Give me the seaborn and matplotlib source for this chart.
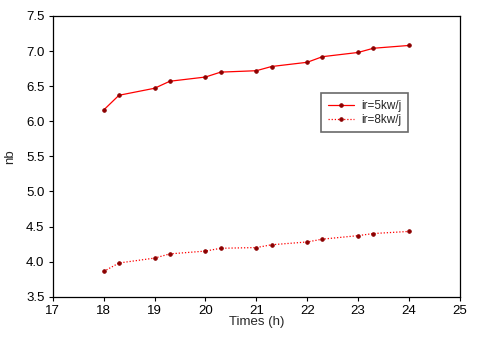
import matplotlib
matplotlib.use("Agg")
import matplotlib.pyplot as plt
import seaborn as sns
import pandas as pd

# Donnees
times = [18, 18.3, 19, 19.3, 20, 20.3, 21, 21.3, 22, 22.3, 23, 23.3, 24]
nb_5kw = [6.16, 6.37, 6.47, 6.57, 6.63, 6.70, 6.72, 6.78, 6.84, 6.92, 6.98, 7.04, 7.08]
nb_8kw = [3.86, 3.98, 4.05, 4.11, 4.15, 4.19, 4.20, 4.24, 4.28, 4.32, 4.37, 4.40, 4.43]
labels = ["ir=5kw/j", "ir=8kw/j"]

df = pd.DataFrame({"t": times + times,
                   "nb": nb_5kw + nb_8kw,
                   "serie": [labels[0]] * len(times) + [labels[1]] * len(times)})

sns.set_style("ticks")
plt.rcParams["font.family"] = ["Liberation Sans", "DejaVu Sans"]

fig = plt.figure(figsize=(4.8, 3.37), dpi=100)
ax = fig.add_axes([0.110, 0.1196, 0.848, 0.833])

sns.lineplot(data=df, x="t", y="nb", hue="serie", style="serie",
             palette=["red", "red"], dashes=[(None, None), (1, 1.5)],
             markers=["o", "o"], ax=ax, linewidth=0.9, markersize=2.5,
             markerfacecolor="#8b0000", markeredgecolor="#8b0000")

ax.set_xlim(17, 25)
ax.set_ylim(3.5, 7.5)
ax.set_xticks(range(17, 26))
ax.set_yticks([3.5, 4.0, 4.5, 5.0, 5.5, 6.0, 6.5, 7.0, 7.5])
ax.set_yticklabels([f"{v:.1f}" for v in ax.get_yticks()])
ax.tick_params(labelsize=9.5, length=3, width=0.8, pad=3, colors="black")
ax.set_xlabel("Times (h)", fontsize=9.5, labelpad=-1)
ax.set_ylabel("nb", fontsize=9.5)
ax.yaxis.set_label_coords(-0.09, 0.5)
for s in ax.spines.values():
    s.set_visible(True)
    s.set_color("black")
    s.set_linewidth(0.9)

leg = ax.legend(loc="upper left", bbox_to_anchor=(0.645, 0.745), fontsize=8.5,
                frameon=True, fancybox=False, edgecolor="#444444",
                handlelength=2.2, handletextpad=0.6, borderpad=0.55,
                labelspacing=0.15)
leg.get_frame().set_linewidth(1.2)

fig.savefig("out.png", dpi=100)
